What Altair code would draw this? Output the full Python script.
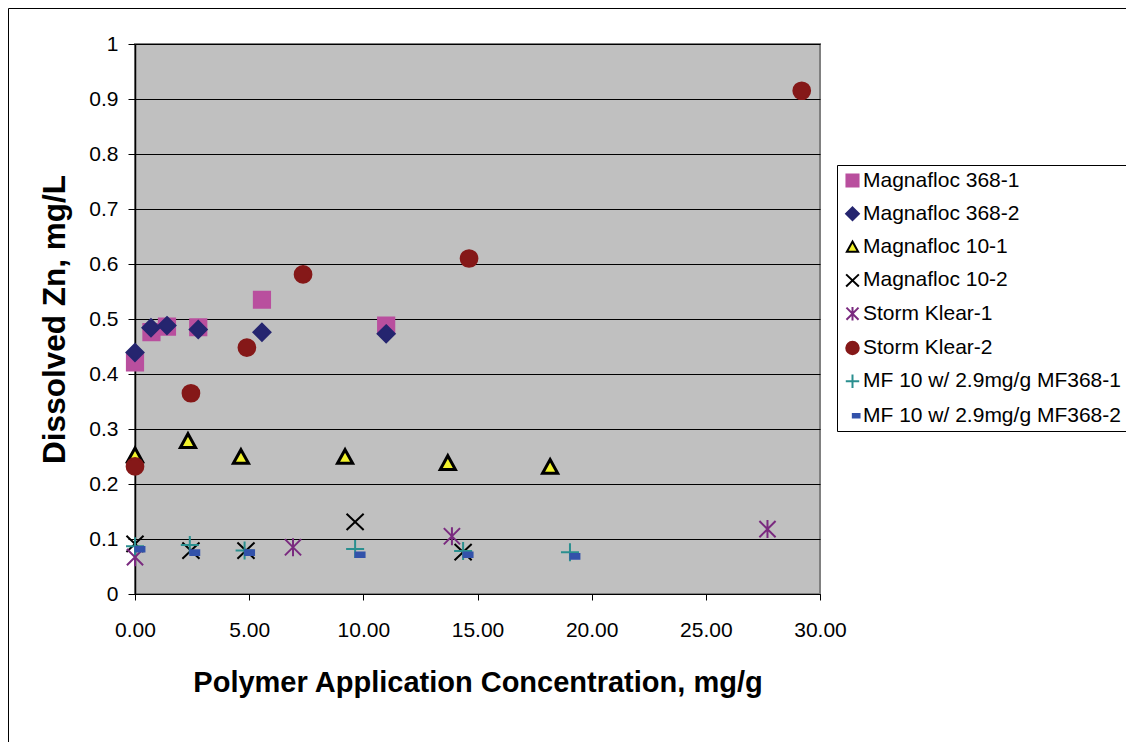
import altair as alt
import pandas as pd

FONT = "Liberation Sans, Arial, sans-serif"

series_names = [
    "Magnafloc 368-1",
    "Magnafloc 368-2",
    "Magnafloc 10-1",
    "Magnafloc 10-2",
    "Storm Klear-1",
    "Storm Klear-2",
    "MF 10 w/ 2.9mg/g MF368-1",
    "MF 10 w/ 2.9mg/g MF368-2",
]

mf368_1_x = [0.0, 0.72, 1.4, 2.77, 5.56, 11.0]
mf368_1_y = [0.421, 0.476, 0.486, 0.485, 0.535, 0.488]

mf368_2_x = [0.0, 0.7, 1.4, 2.77, 5.56, 11.0]
mf368_2_y = [0.439, 0.484, 0.488, 0.481, 0.476, 0.473]

mf10_1_x = [0.0, 2.32, 4.64, 9.2, 13.7, 18.18]
mf10_1_y = [0.252, 0.278, 0.249, 0.249, 0.238, 0.231]

mf10_2_x = [0.0, 2.45, 4.86, 9.64, 14.37]
mf10_2_y = [0.091, 0.079, 0.079, 0.131, 0.076]

sk1_x = [0.0, 6.92, 13.88, 27.7]
sk1_y = [0.067, 0.085, 0.105, 0.118]

sk2_x = [0.0, 2.45, 4.9, 7.36, 14.63, 29.2]
sk2_y = [0.232, 0.365, 0.448, 0.581, 0.610, 0.915]

mix1_x = [0.0, 2.4, 4.8, 9.64, 14.37, 19.05]
mix1_y = [0.087, 0.089, 0.079, 0.082, 0.078, 0.076]

mix2_x = [0.0, 2.4, 4.8, 9.64, 14.37, 19.05]
mix2_y = [0.082, 0.076, 0.076, 0.072, 0.072, 0.069]

all_x = [mf368_1_x, mf368_2_x, mf10_1_x, mf10_2_x, sk1_x, sk2_x, mix1_x, mix2_x]
all_y = [mf368_1_y, mf368_2_y, mf10_1_y, mf10_2_y, sk1_y, sk2_y, mix1_y, mix2_y]

rows = []
for name, xs, ys in zip(series_names, all_x, all_y):
    for xv, yv in zip(xs, ys):
        rows.append({"series": name, "conc": xv, "zn": yv})
df = pd.DataFrame(rows)

shape_paths = [
    "M-0.9,-0.9H0.9V0.9H-0.9Z",
    "M0,-0.95L0.95,0L0,0.95L-0.95,0Z",
    "M0,-0.82L0.84,0.7L-0.84,0.7Z",
    "M-0.95,-0.9L0.95,0.9M-0.95,0.9L0.95,-0.9",
    "M-0.9,-0.9L0.9,0.9M-0.9,0.9L0.9,-0.9M0,-1L0,1",
    "M-0.93,0A0.93,0.93 0 1,0 0.93,0A0.93,0.93 0 1,0 -0.93,0Z",
    "M-1,0L1,0M0,-1L0,1",
    "M0.05,-0.22H1.05V0.3H0.05Z",
]
fill_colors = [
    "#B94F9E", "#25256F", "#F2F22C", "transparent",
    "transparent", "#851818", "transparent", "#3352AA",
]
stroke_colors = [
    "#B94F9E", "#25256F", "#000000", "#000000",
    "#7A2A7F", "#851818", "#2A8F8F", "#3352AA",
]

leg = alt.Legend(
    title=None,
    orient="none",
    legendX=702,
    legendY=121,
    padding=5,
    strokeColor="black",
    fillColor="white",
    labelFont=FONT,
    labelFontSize=21,
    labelColor="black",
    labelOffset=0,
    symbolSize=180,
    symbolStrokeWidth=2,
    rowPadding=11.3,
    labelLimit=400,
)

x_enc = alt.X(
    "conc:Q",
    scale=alt.Scale(domain=[0, 30], nice=False),
    axis=alt.Axis(
        values=[0, 5, 10, 15, 20, 25, 30],
        format=".2f",
        title="Polymer Application Concentration, mg/g",
        grid=False,
        labelFlush=False,
        labelFont=FONT,
        labelFontSize=21,
        labelColor="black",
        labelPadding=19,
        tickColor="black",
        tickSize=6,
        domainColor="black",
        titleFont=FONT,
        titleFontSize=29,
        titleFontWeight="bold",
        titleColor="black",
        titlePadding=28,
    ),
)
y_enc = alt.Y(
    "zn:Q",
    scale=alt.Scale(domain=[0, 1], nice=False),
    axis=alt.Axis(
        values=[0, 0.1, 0.2, 0.3, 0.4, 0.5, 0.6, 0.7, 0.8, 0.9, 1.0],
        format=".1~f",
        title="Dissolved Zn, mg/L",
        grid=True,
        gridColor="black",
        gridWidth=1,
        labelFont=FONT,
        labelFontSize=21,
        labelColor="black",
        labelPadding=10,
        tickColor="black",
        tickSize=7,
        domainColor="black",
        domainWidth=1.5,
        titleFont=FONT,
        titleFontSize=31.5,
        titleFontWeight="bold",
        titleColor="black",
        titlePadding=17,
    ),
)
shape_enc = alt.Shape("series:N", scale=alt.Scale(domain=series_names, range=shape_paths), legend=leg)
fill_enc = alt.Fill("series:N", scale=alt.Scale(domain=series_names, range=fill_colors), legend=leg)
stroke_enc = alt.Stroke("series:N", scale=alt.Scale(domain=series_names, range=stroke_colors), legend=leg)

base = alt.Chart(df).encode(
    x=x_enc, y=y_enc, shape=shape_enc, fill=fill_enc, stroke=stroke_enc
)

triangles = base.transform_filter(
    alt.datum.series == "Magnafloc 10-1"
).mark_point(size=324, opacity=1, strokeWidth=3)

others = base.transform_filter(
    alt.datum.series != "Magnafloc 10-1"
).mark_point(size=324, opacity=1, strokeWidth=2)

frame = alt.Chart(pd.DataFrame({"k": [0]})).mark_rect(
    fill="transparent", stroke="black", strokeWidth=1
).encode(
    x=alt.value(-126.5),
    x2=alt.value(1500),
    y=alt.value(-35.5),
    y2=alt.value(1500),
)

chart = alt.layer(frame, triangles, others).properties(
    width=685,
    height=550,
    autosize=alt.AutoSizeParams(type="none"),
    padding={"left": 127, "top": 36, "right": 306, "bottom": 148},
    background="white",
).configure_view(
    fill="#C0C0C0",
    stroke="#808080",
    strokeWidth=2,
)

chart.save("out.html", embed_options={"renderer": "svg", "actions": False})
